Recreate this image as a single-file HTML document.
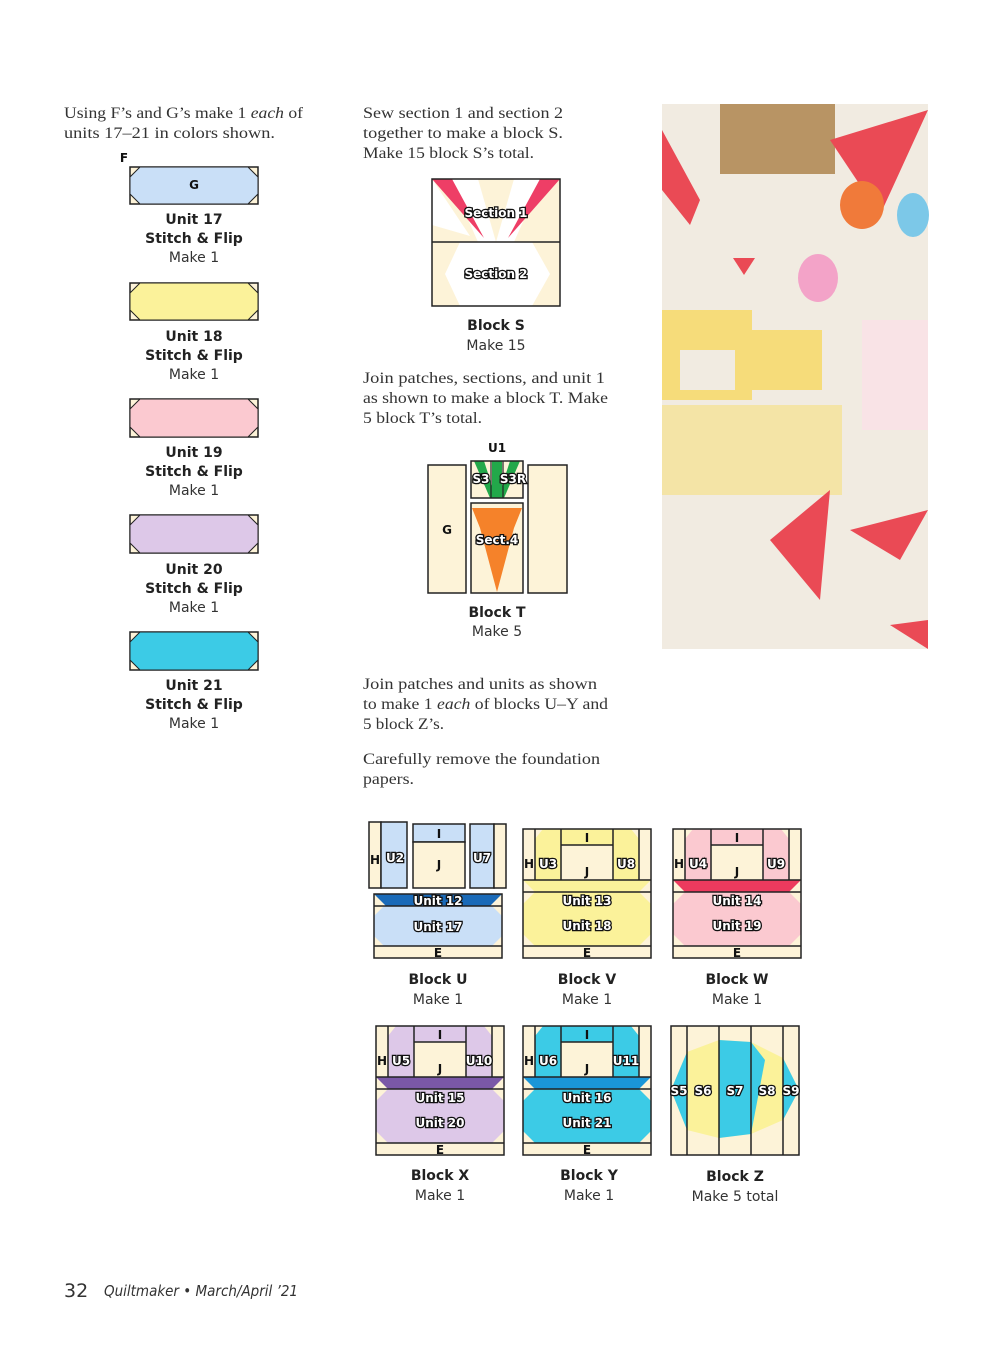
<!DOCTYPE html>
<html><head><meta charset="utf-8"><style>
body{margin:0;background:#fff;}
svg{display:block}
.s{font-family:"Liberation Serif",serif;font-size:16px;fill:#333}
.b{font-family:"DejaVu Sans","Liberation Sans",sans-serif;font-weight:bold;font-size:14px;fill:#222;text-anchor:middle}
.n{font-family:"DejaVu Sans","Liberation Sans",sans-serif;font-size:14px;fill:#333;text-anchor:middle}
.o{font-family:"DejaVu Sans","Liberation Sans",sans-serif;font-weight:bold;font-size:12px;fill:#fff;stroke:#111;stroke-width:2.6px;paint-order:stroke;text-anchor:middle}
.k{font-family:"DejaVu Sans","Liberation Sans",sans-serif;font-weight:bold;font-size:12px;fill:#111;text-anchor:middle}
.l{stroke:#222;stroke-width:1.5;fill:none}
</style></head><body>
<svg width="993" height="1345" xmlns="http://www.w3.org/2000/svg">
<!-- left text -->
<text class="s" x="64" y="118" textLength="239" lengthAdjust="spacingAndGlyphs">Using F’s and G’s make 1 <tspan font-style="italic">each</tspan> of</text>
<text class="s" x="64" y="138" textLength="211" lengthAdjust="spacingAndGlyphs">units 17–21 in colors shown.</text>
<text class="k" x="124" y="162">F</text>
<!-- units -->
<g>
 <rect x="130" y="167" width="128" height="37" fill="#fdf3d8" stroke="#222" stroke-width="1.5"/>
 <polygon points="140,167 248,167 258,177 258,194 248,204 140,204 130,194 130,177" fill="#c9dff7" stroke="#222" stroke-width="1"/>
 <text class="k" x="194" y="189">G</text>
 <text class="b" x="194" y="224">Unit 17</text><text class="b" x="194" y="243">Stitch &amp; Flip</text><text class="n" x="194" y="262">Make 1</text>
</g>
<g>
 <rect x="130" y="283" width="128" height="37" fill="#fdf3d8" stroke="#222" stroke-width="1.5"/>
 <polygon points="140,283 248,283 258,293 258,310 248,320 140,320 130,310 130,293" fill="#fbf29a" stroke="#222" stroke-width="1"/>
 <text class="b" x="194" y="341">Unit 18</text><text class="b" x="194" y="360">Stitch &amp; Flip</text><text class="n" x="194" y="379">Make 1</text>
</g>
<g>
 <rect x="130" y="399" width="128" height="38" fill="#fdf3d8" stroke="#222" stroke-width="1.5"/>
 <polygon points="140,399 248,399 258,409 258,427 248,437 140,437 130,427 130,409" fill="#fbc9d0" stroke="#222" stroke-width="1"/>
 <text class="b" x="194" y="457">Unit 19</text><text class="b" x="194" y="476">Stitch &amp; Flip</text><text class="n" x="194" y="495">Make 1</text>
</g>
<g>
 <rect x="130" y="515" width="128" height="38" fill="#fdf3d8" stroke="#222" stroke-width="1.5"/>
 <polygon points="140,515 248,515 258,525 258,543 248,553 140,553 130,543 130,525" fill="#ddc8e8" stroke="#222" stroke-width="1"/>
 <text class="b" x="194" y="574">Unit 20</text><text class="b" x="194" y="593">Stitch &amp; Flip</text><text class="n" x="194" y="612">Make 1</text>
</g>
<g>
 <rect x="130" y="632" width="128" height="38" fill="#fdf3d8" stroke="#222" stroke-width="1.5"/>
 <polygon points="140,632 248,632 258,642 258,660 248,670 140,670 130,660 130,642" fill="#3ccbe6" stroke="#222" stroke-width="1"/>
 <text class="b" x="194" y="690">Unit 21</text><text class="b" x="194" y="709">Stitch &amp; Flip</text><text class="n" x="194" y="728">Make 1</text>
</g>

<!-- middle text -->
<text class="s" x="363" y="118" textLength="200" lengthAdjust="spacingAndGlyphs">Sew section 1 and section 2</text>
<text class="s" x="363" y="138" textLength="200" lengthAdjust="spacingAndGlyphs">together to make a block S.</text>
<text class="s" x="363" y="158" textLength="171" lengthAdjust="spacingAndGlyphs">Make 15 block S’s total.</text>
<!-- Block S -->
<rect x="432" y="179" width="128" height="127" fill="#fdf3d8"/>
<polygon points="450,179 478,179 496,242 478,242" fill="#fff"/>
<polygon points="542,179 514,179 496,242 514,242" fill="#fff"/>
<polygon points="432,179 452,179 484,238" fill="#ee3e66"/>
<polygon points="560,179 540,179 508,238" fill="#ee3e66"/>
<polygon points="432,225 432,179 470,236" fill="#fff"/>
<polygon points="460,242 532,242 550,274 532,306 460,306 445,274" fill="#fff"/>
<rect x="432" y="179" width="128" height="127" class="l"/>
<line x1="432" y1="242" x2="560" y2="242" stroke="#222" stroke-width="1.5"/>
<text class="o" x="496" y="217">Section 1</text>
<text class="o" x="496" y="278">Section 2</text>
<text class="b" x="496" y="330">Block S</text><text class="n" x="496" y="350">Make 15</text>

<text class="s" x="363" y="383" textLength="242" lengthAdjust="spacingAndGlyphs">Join patches, sections, and unit 1</text>
<text class="s" x="363" y="403" textLength="245" lengthAdjust="spacingAndGlyphs">as shown to make a block T. Make</text>
<text class="s" x="363" y="423" textLength="119" lengthAdjust="spacingAndGlyphs">5 block T’s total.</text>
<!-- Block T -->
<rect x="428" y="465" width="38" height="128" fill="#fdf3d8" stroke="#222" stroke-width="1.5"/>
<rect x="528" y="465" width="39" height="128" fill="#fdf3d8" stroke="#222" stroke-width="1.5"/>
<text class="k" x="447" y="534">G</text>
<rect x="471" y="461" width="52" height="37" fill="#fdf3d8"/>
<polygon points="474,461 484,461 496,498 490,498" fill="#22a84a"/>
<polygon points="520,461 510,461 498,498 504,498" fill="#22a84a"/>
<rect x="492" y="461" width="10" height="37" fill="#22a84a"/>
<rect x="471" y="461" width="52" height="37" class="l"/>
<line x1="491" y1="461" x2="491" y2="498" stroke="#222" stroke-width="1.2"/>
<line x1="503" y1="461" x2="503" y2="498" stroke="#222" stroke-width="1.2"/>
<text class="k" x="497" y="452">U1</text>
<text class="o" x="481" y="483">S3</text><text class="o" x="513" y="483">S3R</text>
<rect x="471" y="503" width="52" height="90" fill="#fdf3d8"/>
<polygon points="472,508 522,508 514,528 497,592 480,528" fill="#f5822a"/>
<rect x="471" y="503" width="52" height="90" class="l"/>
<text class="o" x="497" y="544">Sect.4</text>
<text class="b" x="497" y="617">Block T</text><text class="n" x="497" y="636">Make 5</text>

<text class="s" x="363" y="689" textLength="234" lengthAdjust="spacingAndGlyphs">Join patches and units as shown</text>
<text class="s" x="363" y="709" textLength="245" lengthAdjust="spacingAndGlyphs">to make 1 <tspan font-style="italic">each</tspan> of blocks U–Y and</text>
<text class="s" x="363" y="729" textLength="81" lengthAdjust="spacingAndGlyphs">5 block Z’s.</text>
<text class="s" x="363" y="764" textLength="237" lengthAdjust="spacingAndGlyphs">Carefully remove the foundation</text>
<text class="s" x="363" y="784" textLength="51" lengthAdjust="spacingAndGlyphs">papers.</text>

<!-- Photo -->
<rect x="662" y="104" width="266" height="545" fill="#f1ebe1"/>
<rect x="720" y="104" width="115" height="70" fill="#b89464"/>
<polygon points="662,130 700,200 690,225 662,190" fill="#ea4a55"/>
<polygon points="830,140 928,110 880,215" fill="#ea4a55"/>
<polygon points="733,258 755,258 744,275" fill="#ea4a55"/>
<ellipse cx="862" cy="205" rx="22" ry="24" fill="#f07a3a"/>
<ellipse cx="913" cy="215" rx="16" ry="22" fill="#7cc8e8"/>
<ellipse cx="818" cy="278" rx="20" ry="24" fill="#f3a3c8"/>
<rect x="662" y="310" width="90" height="90" fill="#f6dc7a"/>
<rect x="752" y="330" width="70" height="60" fill="#f6dc7a"/>
<rect x="680" y="350" width="55" height="40" fill="#f1ebe1"/>
<rect x="662" y="405" width="180" height="90" fill="#f4e4a6"/>
<rect x="862" y="320" width="66" height="110" fill="#f9e3e6"/>
<polygon points="770,540 830,490 820,600" fill="#ea4a55"/>
<polygon points="850,530 928,510 900,560" fill="#ea4a55"/>
<polygon points="890,625 928,620 928,649" fill="#ea4a55"/>

<!-- Block U -->
<g>
 <rect x="369" y="822" width="12" height="66" fill="#fdf3d8" stroke="#222" stroke-width="1.5"/>
 <rect x="381" y="822" width="26" height="66" fill="#c9dff7" stroke="#222" stroke-width="1.5"/>
 <rect x="413" y="824" width="52" height="18" fill="#c9dff7" stroke="#222" stroke-width="1.5"/>
 <rect x="413" y="842" width="52" height="46" fill="#fdf3d8" stroke="#222" stroke-width="1.5"/>
 <rect x="470" y="824" width="24" height="64" fill="#c9dff7" stroke="#222" stroke-width="1.5"/>
 <rect x="494" y="824" width="12" height="64" fill="#fdf3d8" stroke="#222" stroke-width="1.5"/>
 <text class="k" x="375" y="864">H</text><text class="o" x="395" y="862">U2</text>
 <text class="k" x="439" y="838">I</text><text class="k" x="439" y="869">J</text><text class="o" x="482" y="862">U7</text>
 <g transform="translate(374,894)">
  <rect x="0" y="0" width="128" height="64" fill="#fdf3d8"/>
  <polygon points="0,0 128,0 116,12 12,12" fill="#1a6ab8"/>
  <polygon points="10,12 118,12 128,22 128,42 118,52 10,52 0,42 0,22" fill="#c9dff7"/>
  <rect x="0" y="0" width="128" height="64" class="l"/>
  <line x1="0" y1="12" x2="128" y2="12" stroke="#222" stroke-width="1.5"/>
  <line x1="0" y1="52" x2="128" y2="52" stroke="#222" stroke-width="1.5"/>
  <text class="o" x="64" y="11">Unit 12</text><text class="o" x="64" y="37">Unit 17</text><text class="k" x="64" y="63">E</text>
 </g>
 <text class="b" x="438" y="984">Block U</text><text class="n" x="438" y="1004">Make 1</text>
</g>

<!-- Block V -->
<g transform="translate(523,829)">
 <rect width="128" height="129" fill="#fdf3d8"/>
 <polygon points="20,0 38,0 38,51 12,51 12,10" fill="#fbf29a"/>
 <polygon points="108,0 90,0 90,51 116,51 116,10" fill="#fbf29a"/>
 <rect x="38" y="0" width="52" height="16" fill="#fbf29a"/>
 <polygon points="0,51 128,51 116,63 12,63" fill="#fbf29a"/>
 <polygon points="12,63 116,63 128,75 128,105 116,117 12,117 0,105 0,75" fill="#fbf29a"/>
 <rect width="128" height="129" class="l"/>
 <path d="M12,0V51M38,0V51M90,0V51M116,0V51M38,16H90M0,51H128M0,63H128M0,117H128" class="l"/>
 <text class="k" x="6" y="39">H</text><text class="o" x="25" y="39">U3</text><text class="k" x="64" y="13">I</text><text class="k" x="64" y="47">J</text><text class="o" x="103" y="39">U8</text>
 <text class="o" x="64" y="76">Unit 13</text><text class="o" x="64" y="101">Unit 18</text><text class="k" x="64" y="128">E</text>
</g>
<text class="b" x="587" y="984">Block V</text><text class="n" x="587" y="1004">Make 1</text>
<!-- Block W -->
<g transform="translate(673,829)">
 <rect width="128" height="129" fill="#fdf3d8"/>
 <polygon points="20,0 38,0 38,51 12,51 12,10" fill="#fbc9d0"/>
 <polygon points="108,0 90,0 90,51 116,51 116,10" fill="#fbc9d0"/>
 <rect x="38" y="0" width="52" height="16" fill="#fbc9d0"/>
 <polygon points="0,51 128,51 116,63 12,63" fill="#ec3a5e"/>
 <polygon points="12,63 116,63 128,75 128,105 116,117 12,117 0,105 0,75" fill="#fbc9d0"/>
 <rect width="128" height="129" class="l"/>
 <path d="M12,0V51M38,0V51M90,0V51M116,0V51M38,16H90M0,51H128M0,63H128M0,117H128" class="l"/>
 <text class="k" x="6" y="39">H</text><text class="o" x="25" y="39">U4</text><text class="k" x="64" y="13">I</text><text class="k" x="64" y="47">J</text><text class="o" x="103" y="39">U9</text>
 <text class="o" x="64" y="76">Unit 14</text><text class="o" x="64" y="101">Unit 19</text><text class="k" x="64" y="128">E</text>
</g>
<text class="b" x="737" y="984">Block W</text><text class="n" x="737" y="1004">Make 1</text>
<!-- Block X -->
<g transform="translate(376,1026)">
 <rect width="128" height="129" fill="#fdf3d8"/>
 <polygon points="20,0 38,0 38,51 12,51 12,10" fill="#ddc8e8"/>
 <polygon points="108,0 90,0 90,51 116,51 116,10" fill="#ddc8e8"/>
 <rect x="38" y="0" width="52" height="16" fill="#ddc8e8"/>
 <polygon points="0,51 128,51 116,63 12,63" fill="#7a58a8"/>
 <polygon points="12,63 116,63 128,75 128,105 116,117 12,117 0,105 0,75" fill="#ddc8e8"/>
 <rect width="128" height="129" class="l"/>
 <path d="M12,0V51M38,0V51M90,0V51M116,0V51M38,16H90M0,51H128M0,63H128M0,117H128" class="l"/>
 <text class="k" x="6" y="39">H</text><text class="o" x="25" y="39">U5</text><text class="k" x="64" y="13">I</text><text class="k" x="64" y="47">J</text><text class="o" x="103" y="39">U10</text>
 <text class="o" x="64" y="76">Unit 15</text><text class="o" x="64" y="101">Unit 20</text><text class="k" x="64" y="128">E</text>
</g>
<text class="b" x="440" y="1180">Block X</text><text class="n" x="440" y="1200">Make 1</text>
<!-- Block Y -->
<g transform="translate(523,1026)">
 <rect width="128" height="129" fill="#fdf3d8"/>
 <polygon points="20,0 38,0 38,51 12,51 12,10" fill="#3ccbe6"/>
 <polygon points="108,0 90,0 90,51 116,51 116,10" fill="#3ccbe6"/>
 <rect x="38" y="0" width="52" height="16" fill="#3ccbe6"/>
 <polygon points="0,51 128,51 116,63 12,63" fill="#1a96d8"/>
 <polygon points="12,63 116,63 128,75 128,105 116,117 12,117 0,105 0,75" fill="#3ccbe6"/>
 <rect width="128" height="129" class="l"/>
 <path d="M12,0V51M38,0V51M90,0V51M116,0V51M38,16H90M0,51H128M0,63H128M0,117H128" class="l"/>
 <text class="k" x="6" y="39">H</text><text class="o" x="25" y="39">U6</text><text class="k" x="64" y="13">I</text><text class="k" x="64" y="47">J</text><text class="o" x="103" y="39">U11</text>
 <text class="o" x="64" y="76">Unit 16</text><text class="o" x="64" y="101">Unit 21</text><text class="k" x="64" y="128">E</text>
</g>
<text class="b" x="589" y="1180">Block Y</text><text class="n" x="589" y="1200">Make 1</text>
<!-- Block Z -->
<g>
 <rect x="671" y="1026" width="128" height="129" fill="#fdf3d8"/>
 <polygon points="687,1052 719,1040 751,1042 783,1058 799,1090 783,1120 751,1134 719,1138 687,1130 671,1090" fill="#fbf29a"/>
 <polygon points="719,1040 751,1042 765,1060 751,1134 719,1138" fill="#3ccbe6"/>
 <polygon points="687,1052 671,1090 687,1130" fill="#3ccbe6"/>
 <polygon points="783,1058 799,1090 783,1120" fill="#3ccbe6"/>
 <rect x="671" y="1026" width="128" height="129" class="l"/>
 <path d="M687,1026V1155M719,1026V1155M751,1026V1155M783,1026V1155" class="l"/>
 <text class="o" x="679" y="1095">S5</text><text class="o" x="703" y="1095">S6</text><text class="o" x="735" y="1095">S7</text><text class="o" x="767" y="1095">S8</text><text class="o" x="791" y="1095">S9</text>
</g>
<text class="b" x="735" y="1181">Block Z</text><text class="n" x="735" y="1201">Make 5 total</text>

<!-- footer -->
<text x="64" y="1297" font-family="DejaVu Sans,Liberation Sans,sans-serif" font-size="19" fill="#333">32</text>
<text x="104" y="1296" font-family="DejaVu Sans,Liberation Sans,sans-serif" font-size="15" font-style="italic" fill="#333" textLength="194" lengthAdjust="spacingAndGlyphs">Quiltmaker • March/April ’21</text>
</svg>
</body></html>
